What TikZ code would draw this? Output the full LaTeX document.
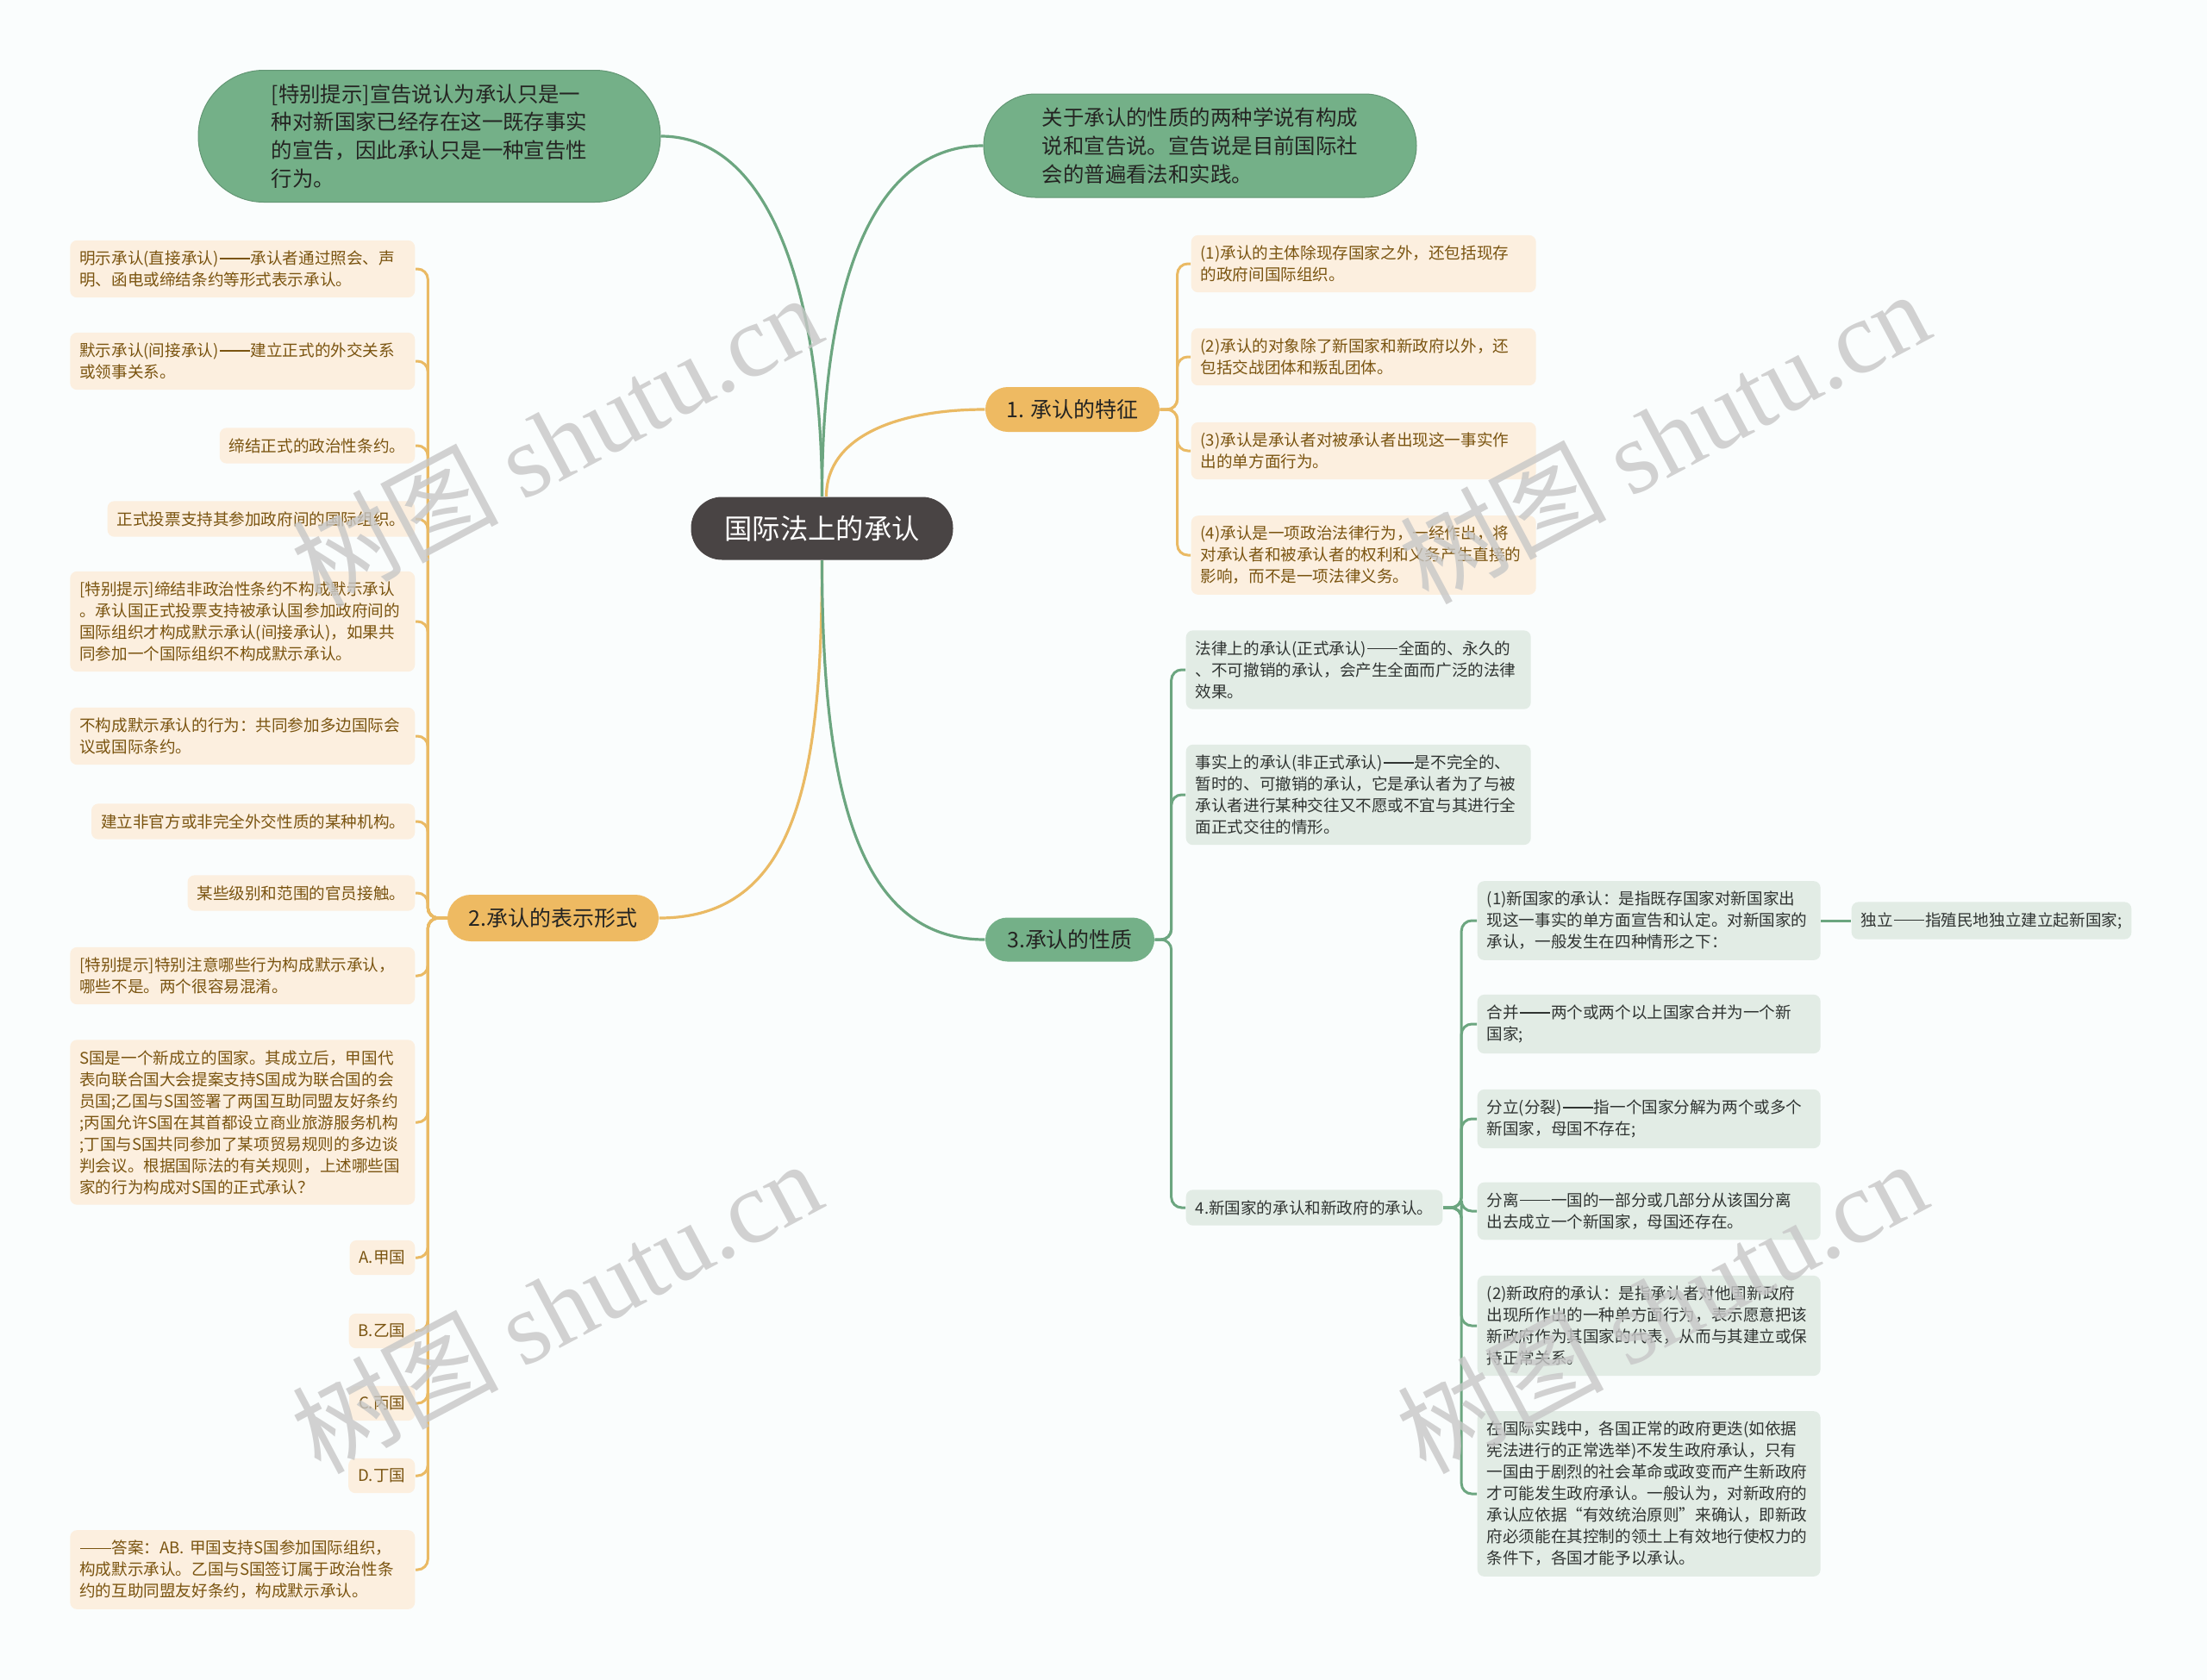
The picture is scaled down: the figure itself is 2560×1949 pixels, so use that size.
\documentclass[tikz,border=0pt]{standalone}
\usepackage{fontspec}
\setmainfont{Noto Sans CJK SC}
\newfontfamily\wmfont{Liberation Serif}
\definecolor{cBg}{RGB}{250,253,253}
\definecolor{cRoot}{RGB}{73,68,68}
\definecolor{cPillG}{RGB}{116,176,136}
\definecolor{cPillO}{RGB}{238,186,98}
\definecolor{cLeafO}{RGB}{252,239,223}
\definecolor{cLeafG}{RGB}{226,236,229}
\definecolor{cLineO}{RGB}{234,186,100}
\definecolor{cLineG}{RGB}{108,166,128}
\definecolor{cTxtO}{RGB}{122,84,16}
\definecolor{cTxtG}{RGB}{48,52,50}
\definecolor{cTxtD}{RGB}{36,36,34}
\newcommand\leaffont{\fontsize{5.29}{7.11}\selectfont}
\newcommand\pillfont{\fontsize{6.95}{9.3}\selectfont}
\newcommand\branchfont{\fontsize{7.1}{9}\selectfont}
\newcommand\rootfont{\fontsize{9.2}{11}\selectfont}
\newcommand\cjkdash{\kern0.05em\rule[0.32em]{1.9em}{0.065em}\kern0.05em}

\begin{document}
\begin{tikzpicture}[x=0.1mm,y=-0.1mm,
  leaf/.style={rounded corners=0.8mm,inner xsep=1.1mm,inner ysep=1.2mm,font=\leaffont,align=left},
  leafo/.style={leaf,fill=cLeafO,text=cTxtO},
  leafg/.style={leaf,fill=cLeafG,text=cTxtG},
  widebox/.style={text width=37.8mm},
  pill/.style={text=cTxtD,inner sep=0pt},
  lino/.style={draw=cLineO,line width=0.3mm,rounded corners=1.2mm},
  ling/.style={draw=cLineG,line width=0.3mm,rounded corners=1.2mm},
  wmark/.style={text=black!22,opacity=0.8,rotate=28,font=\fontsize{34}{36}\selectfont}]
\useasboundingbox (0,0) rectangle (2560,1949);
\fill[cBg] (0,0) rectangle (2560,1949);

\node[fill=cRoot,text=white,rounded corners=3.6mm,minimum width=30.4mm,minimum height=7.3mm,font=\rootfont] (root) at (953.5,613) {国际法上的承认};
\node[pill,fill=cPillG,draw=cPillG!85!black,line width=0.1mm,rounded corners=7.6mm,minimum width=53.6mm,minimum height=15.3mm,font=\pillfont,align=left] (tl) at (498,158)
  {[特别提示]宣告说认为承认只是一\\种对新国家已经存在这一既存事实\\的宣告，因此承认只是一种宣告性\\行为。};
\node[pill,fill=cPillG,draw=cPillG!85!black,line width=0.1mm,rounded corners=6mm,minimum width=50.2mm,minimum height=12mm,font=\pillfont,align=left] (tr) at (1392,169)
  {关于承认的性质的两种学说有构成\\说和宣告说。宣告说是目前国际社\\会的普遍看法和实践。};
\node[pill,fill=cPillO,rounded corners=2.6mm,minimum width=20.2mm,minimum height=5.2mm,font=\branchfont] (b1) at (1244,475) {1. 承认的特征};
\node[pill,fill=cPillO,rounded corners=2.7mm,minimum width=24.5mm,minimum height=5.4mm,font=\branchfont] (b2) at (641.5,1065) {2.承认的表示形式};
\node[pill,fill=cPillG,rounded corners=2.55mm,minimum width=19.6mm,minimum height=5.1mm,font=\branchfont] (b3) at (1241,1090) {3.承认的性质};

\draw[draw=cLineG,line width=0.32mm] (root.north) .. controls +(0,-200) and +(140,0) .. (tl.east);
\draw[draw=cLineG,line width=0.32mm] (root.north) .. controls +(0,-220) and +(-140,0) .. (tr.west);
\draw[draw=cLineO,line width=0.32mm] ([xshift=0.5mm]root.north) .. controls +(0,-70) and +(-100,0) .. (b1.west);
\draw[draw=cLineO,line width=0.32mm] (root.south) .. controls +(0,250) and +(160,0) .. (b2.east);
\draw[draw=cLineG,line width=0.32mm] (root.south) .. controls +(0,260) and +(-150,0) .. (b3.west);

\foreach \n/\y/\txt in {
  r1/306/{(1)承认的主体除现存国家之外，还包括现存\\的政府间国际组织。},
  r2/414/{(2)承认的对象除了新国家和新政府以外，还\\包括交战团体和叛乱团体。},
  r3/523/{(3)承认是承认者对被承认者出现这一事实作\\出的单方面行为。},
  r4/644/{(4)承认是一项政治法律行为，一经作出，将\\对承认者和被承认者的权利和义务产生直接的\\影响，而不是一项法律义务。}}
  \node[leafo,widebox,anchor=west] (\n) at (1381,\y) {\txt};
\foreach \n in {1,...,4} \draw[lino] (b1.east) -- ++(20,0) |- (r\n.west);

\foreach \n/\y/\txt in {
  l1/312/{明示承认(直接承认)\cjkdash 承认者通过照会、声\\明、函电或缔结条约等形式表示承认。},
  l2/419/{默示承认(间接承认)\cjkdash 建立正式的外交关系\\或领事关系。},
  l5/721/{[特别提示]缔结非政治性条约不构成默示承认\\。承认国正式投票支持被承认国参加政府间的\\国际组织才构成默示承认(间接承认)，如果共\\同参加一个国际组织不构成默示承认。},
  l6/854/{不构成默示承认的行为：共同参加多边国际会\\议或国际条约。},
  l9/1132/{[特别提示]特别注意哪些行为构成默示承认，\\哪些不是。两个很容易混淆。},
  l10/1302/{S国是一个新成立的国家。其成立后，甲国代\\表向联合国大会提案支持S国成为联合国的会\\员国;乙国与S国签署了两国互助同盟友好条约\\;丙国允许S国在其首都设立商业旅游服务机构\\;丁国与S国共同参加了某项贸易规则的多边谈\\判会议。根据国际法的有关规则，上述哪些国\\家的行为构成对S国的正式承认？},
  l15/1821/{\cjkdash 答案：AB. 甲国支持S国参加国际组织，\\构成默示承认。乙国与S国签订属于政治性条\\约的互助同盟友好条约，构成默示承认。}}
  \node[leafo,widebox,anchor=east] (\n) at (482,\y) {\txt};
\foreach \n/\y/\txt in {
  l3/517/{缔结正式的政治性条约。},
  l4/602/{正式投票支持其参加政府间的国际组织。},
  l7/953/{建立非官方或非完全外交性质的某种机构。},
  l8/1036/{某些级别和范围的官员接触。},
  l11/1459/{A.甲国}, l12/1544/{B.乙国}, l13/1628/{C.丙国}, l14/1712/{D.丁国}}
  \node[leafo,anchor=east] (\n) at (482,\y) {\txt};
\foreach \n in {1,...,15} \draw[lino] (b2.west) -- ++(-22,0) |- (l\n.east);

\node[leafg,widebox,anchor=west] (g1) at (1375,777)
  {法律上的承认(正式承认)\cjkdash 全面的、永久的\\、不可撤销的承认，会产生全面而广泛的法律\\效果。};
\node[leafg,widebox,anchor=west] (g2) at (1375,922)
  {事实上的承认(非正式承认)\cjkdash 是不完全的、\\暂时的、可撤销的承认，它是承认者为了与被\\承认者进行某种交往又不愿或不宜与其进行全\\面正式交往的情形。};
\node[leafg,anchor=west] (g3) at (1375,1401) {4.新国家的承认和新政府的承认。};
\foreach \n in {1,2,3} \draw[ling] (b3.east) -- ++(19,0) |- (g\n.west);

\foreach \n/\y/\txt in {
  s1/1068/{(1)新国家的承认：是指既存国家对新国家出\\现这一事实的单方面宣告和认定。对新国家的\\承认，一般发生在四种情形之下：},
  s2/1188/{合并\cjkdash 两个或两个以上国家合并为一个新\\国家;},
  s3/1298/{分立(分裂)\cjkdash 指一个国家分解为两个或多个\\新国家，母国不存在;},
  s4/1405/{分离\cjkdash 一国的一部分或几部分从该国分离\\出去成立一个新国家，母国还存在。},
  s5/1538/{(2)新政府的承认：是指承认者对他国新政府\\出现所作出的一种单方面行为，表示愿意把该\\新政府作为其国家的代表，从而与其建立或保\\持正常关系。},
  s6/1733/{在国际实践中，各国正常的政府更迭(如依据\\宪法进行的正常选举)不发生政府承认，只有\\一国由于剧烈的社会革命或政变而产生新政府\\才可能发生政府承认。一般认为，对新政府的\\承认应依据“有效统治原则”来确认，即新政\\府必须能在其控制的领土上有效地行使权力的\\条件下，各国才能予以承认。}}
  \node[leafg,text width=37.6mm,anchor=west] (\n) at (1713,\y) {\txt};
\foreach \n in {1,...,6} \draw[ling] (g3.east) -- ++(21,0) |- (s\n.west);
\node[leafg,anchor=west] (indep) at (2147,1068) {独立\cjkdash 指殖民地独立建立起新国家;};
\draw[ling] (s1.east) -- (indep.west);

\foreach \wx/\wy [count=\i] in {645/510,1930/506,645/1515,1927/1515}
  \node[wmark] (wm\i) at (\wx,\wy) {树图 {\wmfont shutu.cn}};
\end{tikzpicture}
\end{document}
